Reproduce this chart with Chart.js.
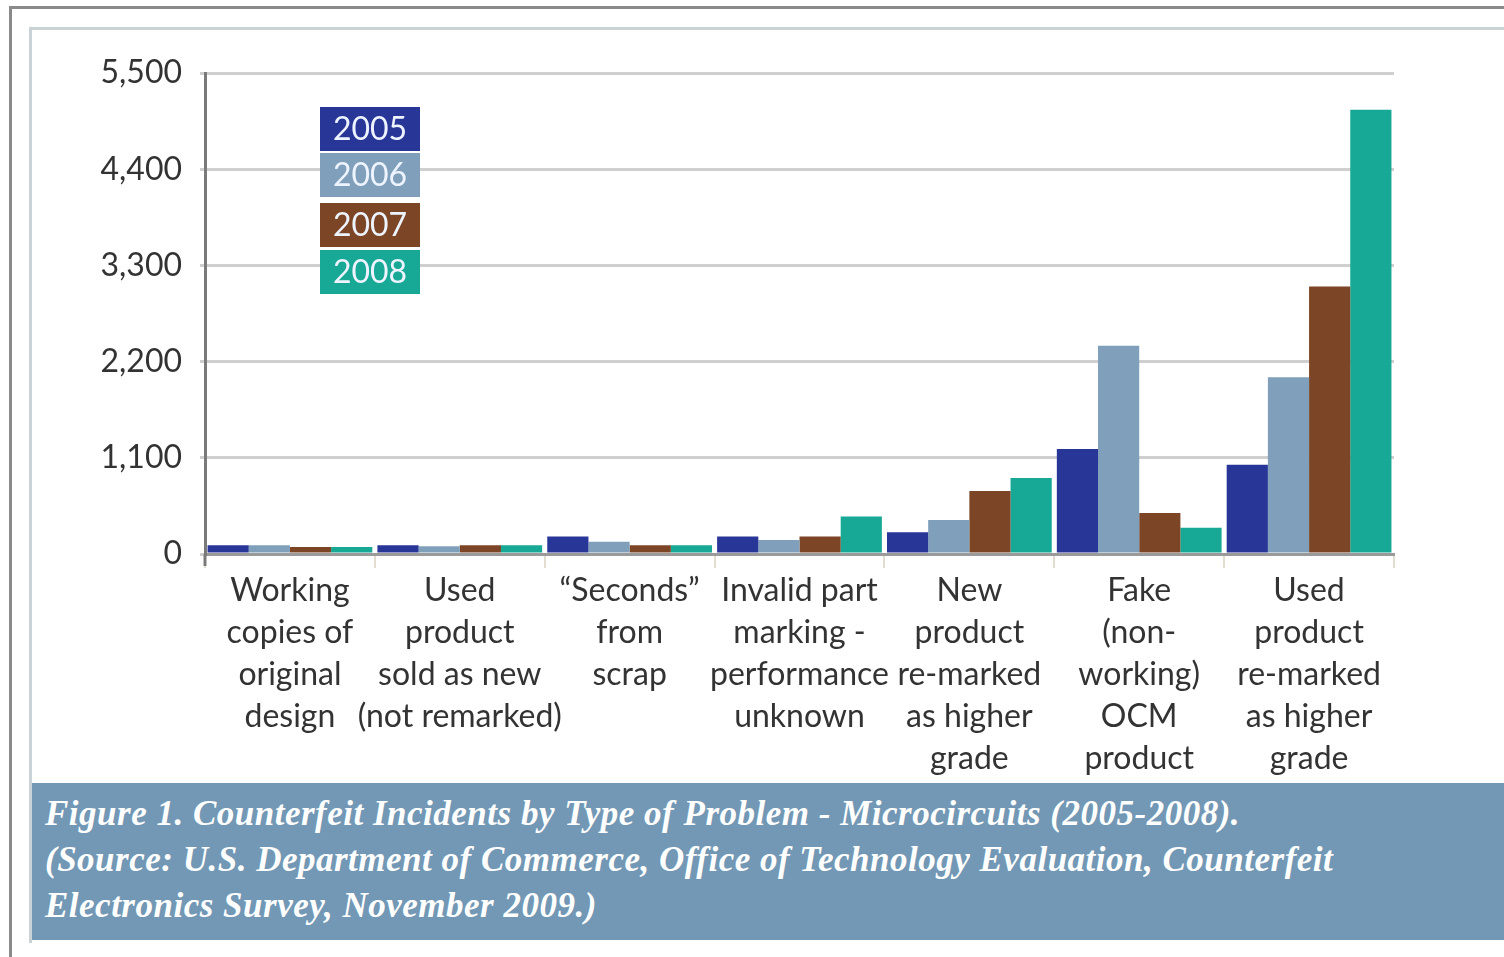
<!DOCTYPE html>
<html>
<head>
<meta charset="utf-8">
<script src="https://cdn.jsdelivr.net/npm/chart.js@4.4.0/dist/chart.umd.min.js"></script>
<style>
    body { margin: 0; background: #fff; width: 1504px; height: 957px; overflow: hidden; position: relative; }
    #outer { position: absolute; left: 9px; top: 6px; width: 1520px; height: 1000px; border-left: 3px solid #8a8a8a; border-top: 3px solid #8a8a8a; }
    #inner { position: absolute; left: 29px; top: 27px; width: 1500px; height: 913px; border-left: 3px solid #c9d3d6; border-top: 3px solid #c9d3d6; }
    #wrap { position: absolute; left: 32px; top: 30px; width: 1472px; height: 753px; }
    #caption {
        position: absolute; left: 32px; top: 783px; width: 1472px; height: 157px;
        background: #7298b5; color: #fff; box-sizing: border-box; padding: 8px 0 0 13px;
        font-family: "Liberation Serif", "DejaVu Serif", serif; font-style: italic; font-weight: bold;
        font-size: 35px; line-height: 46px; letter-spacing: 0.5px; white-space: nowrap;
    }
</style>
</head>
<body>
<div id="outer"></div>
<div id="inner"></div>
<div id="wrap"><canvas id="chart"></canvas></div>
<div id="caption">
    Figure 1. Counterfeit Incidents by Type of Problem - Microcircuits (2005-2008).<br>
    (Source: U.S. Department of Commerce, Office of Technology Evaluation, Counterfeit<br>
    Electronics Survey, November 2009.)
</div>
<script>
const categories = [
    ["Working", "copies of", "original", "design"],
    ["Used", "product", "sold as new", "(not remarked)"],
    ["\u201CSeconds\u201D", "from", "scrap"],
    ["Invalid part", "marking -", "performance", "unknown"],
    ["New", "product", "re-marked", "as higher", "grade"],
    ["Fake", "(non-", "working)", "OCM", "product"],
    ["Used", "product", "re-marked", "as higher", "grade"]
];
const years = ["2005", "2006", "2007", "2008"];
const values2005 = [100, 100, 200, 200, 250, 1200, 1020];
const values2006 = [100, 90, 140, 160, 390, 2380, 2020];
const values2007 = [80, 100, 100, 200, 720, 470, 3060];
const values2008 = [80, 100, 100, 430, 870, 300, 5080];
const yTicks = [0, 1100, 2200, 3300, 4400, 5500];

const colors = ["#283698", "#7f9fba", "#7b4526", "#17a896"];
const seriesValues = [values2005, values2006, values2007, values2008];

const labelFont = "Lato, 'Open Sans', sans-serif";

// legend boxes drawn inside the plot, top left
const boxLegend = {
    id: "boxLegend",
    afterDraw(chart) {
        const ctx = chart.ctx;
        const x = chart.chartArea.left + 115;
        const tops = [34, 80, 130, 177];
        ctx.save();
        chart.data.datasets.forEach((ds, i) => {
            const y = chart.chartArea.top + tops[i];
            ctx.fillStyle = ds.backgroundColor;
            ctx.fillRect(x, y, 100, 44);
            ctx.fillStyle = "#eef4ff";
            ctx.font = "32px " + labelFont;
            ctx.textAlign = "center";
            ctx.textBaseline = "middle";
            ctx.fillText(ds.label, x + 50, y + 23);
        });
        // y axis runs a bit below the x axis
        ctx.strokeStyle = "#7a7a7a";
        ctx.lineWidth = 3;
        ctx.beginPath();
        ctx.moveTo(chart.chartArea.left, chart.chartArea.bottom);
        ctx.lineTo(chart.chartArea.left, chart.chartArea.bottom + 12);
        ctx.stroke();
        ctx.restore();
    }
};

const chart = new Chart(document.getElementById("chart").getContext("2d"), {
    type: "bar",
    data: {
        labels: categories,
        datasets: years.map((y, i) => ({
            label: y,
            data: seriesValues[i],
            backgroundColor: colors[i],
            borderWidth: 0,
            barPercentage: 1.0,
            categoryPercentage: 0.97
        }))
    },
    options: {
        responsive: true,
        maintainAspectRatio: false,
        animation: false,
        layout: { padding: { left: 0, top: 43, right: 110, bottom: 0 } },
        plugins: { legend: { display: false }, tooltip: { enabled: false } },
        scales: {
            x: {
                grid: { drawOnChartArea: false, drawTicks: true, tickLength: 14, color: "#e2ddd0", lineWidth: 2 },
                border: { color: "#9a9a9a", width: 3 },
                ticks: {
                    autoSkip: false, maxRotation: 0, minRotation: 0, padding: 2,
                    color: "#333",
                    font: { family: labelFont, size: 32, lineHeight: 1.31 }
                },
                afterFit(scale) { scale.height = 229; }
            },
            y: {
                min: 0, max: 5500,
                afterBuildTicks(scale) { scale.ticks = yTicks.map(v => ({ value: v })); },
                grid: { color: "#cfcfcf", lineWidth: 3, drawTicks: true, tickLength: 5 },
                border: { color: "#7a7a7a", width: 3 },
                ticks: {
                    padding: 18, color: "#333",
                    font: { family: labelFont, size: 32 },
                    callback: v => v.toLocaleString("en-US")
                },
                afterFit(scale) { scale.width = 173; }
            }
        }
    },
    plugins: [boxLegend]
});
</script>
</body>
</html>
